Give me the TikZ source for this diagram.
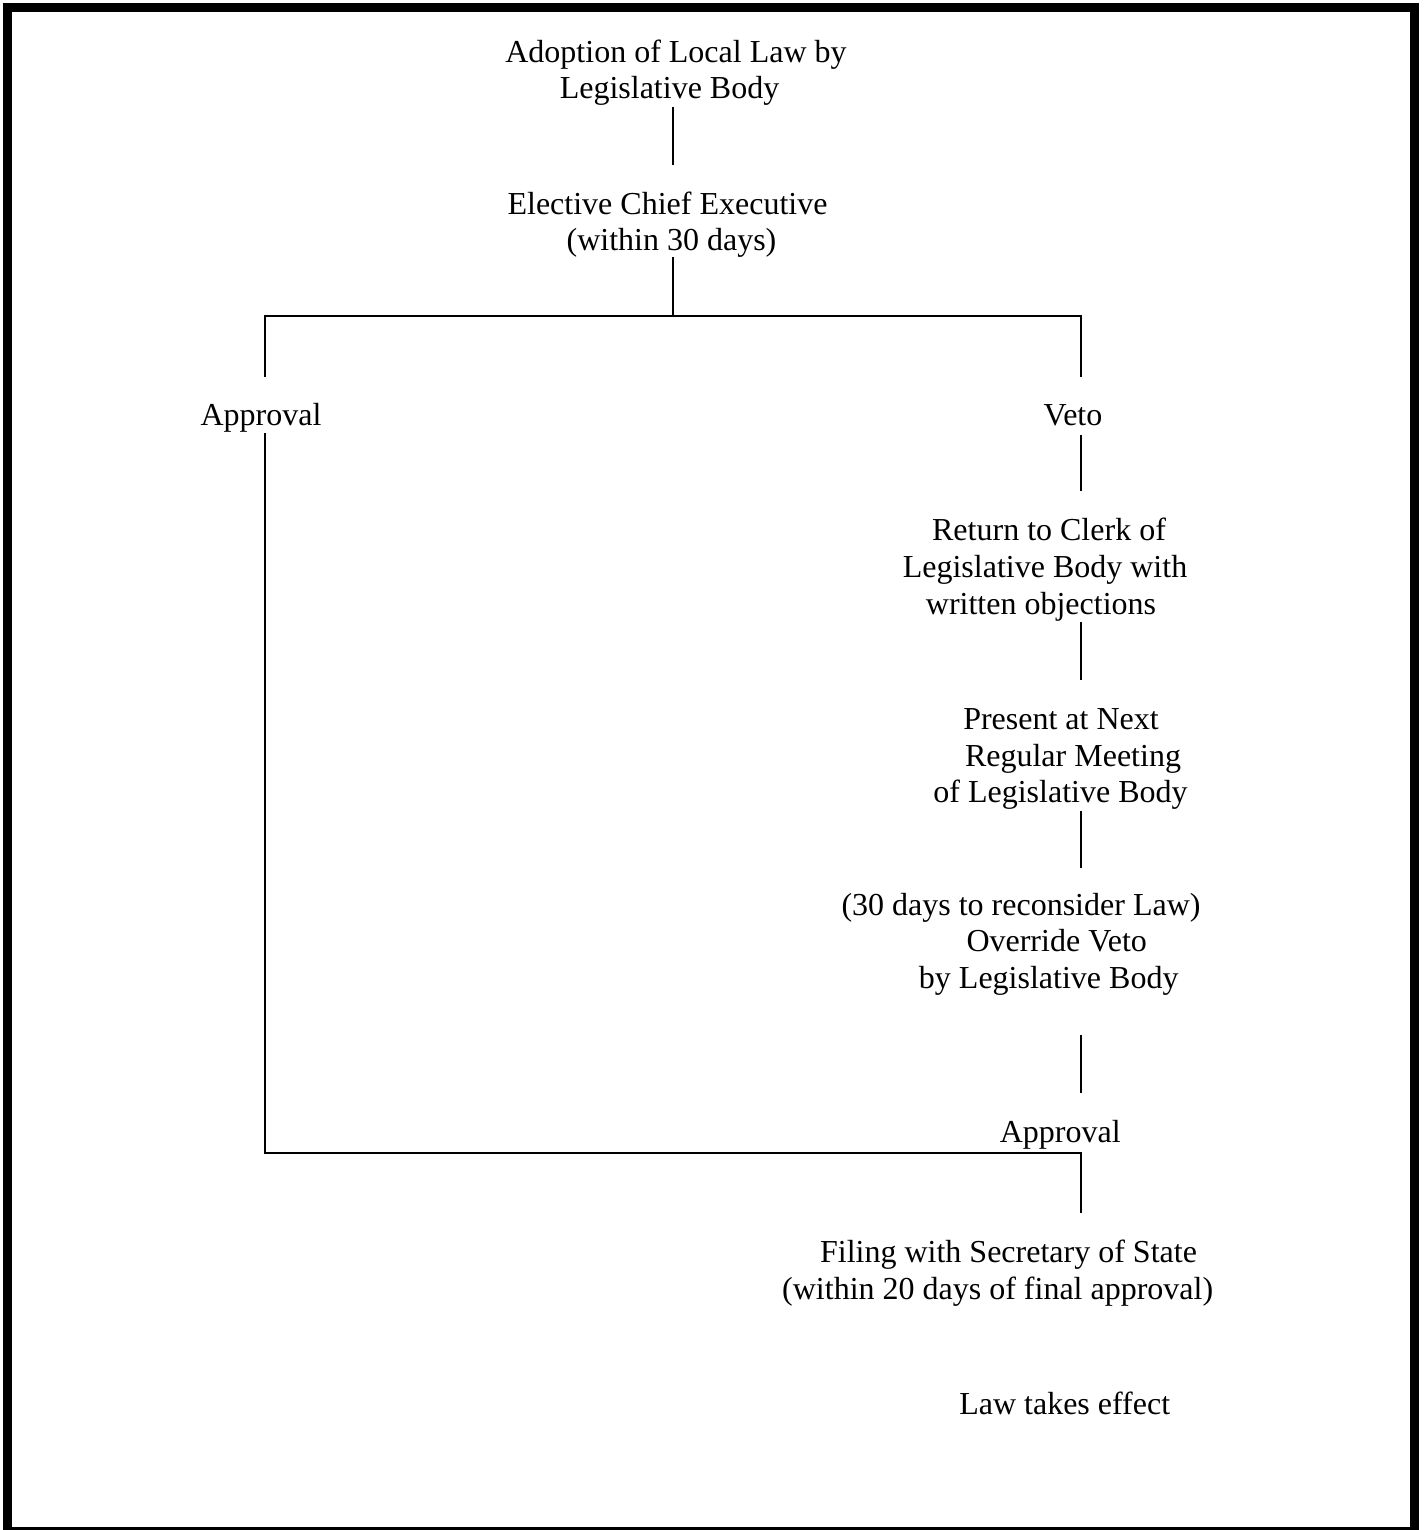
\documentclass[tikz,border=0pt]{standalone}
\usepackage{fontspec}
\setmainfont{Liberation Serif}
\begin{document}
\begin{tikzpicture}[x=0.5pt,y=-0.5pt,
  lbl/.style={inner sep=0pt, anchor=base, font=\fontsize{16pt}{18pt}\selectfont},
  conn/.style={line width=1pt, line cap=butt},
  frame/.style={line width=4.5pt}]
\useasboundingbox (0,0) rectangle (1424,1530);
\draw[frame] (7.5,7.5) rectangle (1414,1531.5);

% texts
\node[lbl] (adopt1) at (676,62.3) {Adoption of Local Law by};
\node[lbl] (adopt2) at (669.5,99) {Legislative Body};
\node[lbl] (exec1) at (667.5,214) {Elective Chief Executive};
\node[lbl] (exec2) at (671.5,250.7) {(within 30 days)};
\node[lbl] (appr) at (261,425.7) {Approval};
\node[lbl] (veto) at (1073,425.7) {Veto};
\node[lbl] (ret1) at (1049,540.7) {Return to Clerk of};
\node[lbl] (ret2) at (1045,577.7) {Legislative Body with};
\node[lbl] (ret3) at (1041,614.3) {written objections};
\node[lbl] (pres1) at (1061,729.3) {Present at Next};
\node[lbl] (pres2) at (1073,766) {Regular Meeting};
\node[lbl] (pres3) at (1060.5,802.7) {of Legislative Body};
\node[lbl] (ovr1) at (1021,915) {(30 days to reconsider Law)};
\node[lbl] (ovr2) at (1056.7,951.7) {Override Veto};
\node[lbl] (ovr3) at (1048.7,988.3) {by Legislative Body};
\node[lbl] (appr2) at (1060.3,1142.7) {Approval};
\node[lbl] (file1) at (1008.5,1262.7) {Filing with Secretary of State};
\node[lbl] (file2) at (997.7,1299.3) {(within 20 days of final approval)};
\node[lbl] (law) at (1064.7,1414) {Law takes effect};

% connector ends
\coordinate (a1) at (673,107);
\coordinate (a2) at (673,165);
\coordinate (e1) at (673,257);
\coordinate (split) at (673,316);
\coordinate (sl) at (265,316);
\coordinate (sr) at (1081,316);
\coordinate (slb) at (265,377);
\coordinate (srb) at (1081,377);
\coordinate (apt) at (265,433);
\coordinate (join) at (265,1153);
\coordinate (jr) at (1081,1153);
\coordinate (jrb) at (1081,1213);
\coordinate (v1) at (1081,435);
\coordinate (v2) at (1081,491);
\coordinate (r1) at (1081,622);
\coordinate (r2) at (1081,680);
\coordinate (p1) at (1081,811);
\coordinate (p2) at (1081,868);
\coordinate (o1) at (1081,1035);
\coordinate (o2) at (1081,1093);

\draw[conn] (a1) -- (a2);
\draw[conn] (e1) -- (split);
\draw[conn] (slb) -- (sl) -- (sr) -- (srb);
\draw[conn] (apt) -- (join) -- (jr) -- (jrb);
\draw[conn] (v1) -- (v2);
\draw[conn] (r1) -- (r2);
\draw[conn] (p1) -- (p2);
\draw[conn] (o1) -- (o2);
\end{tikzpicture}
\end{document}
